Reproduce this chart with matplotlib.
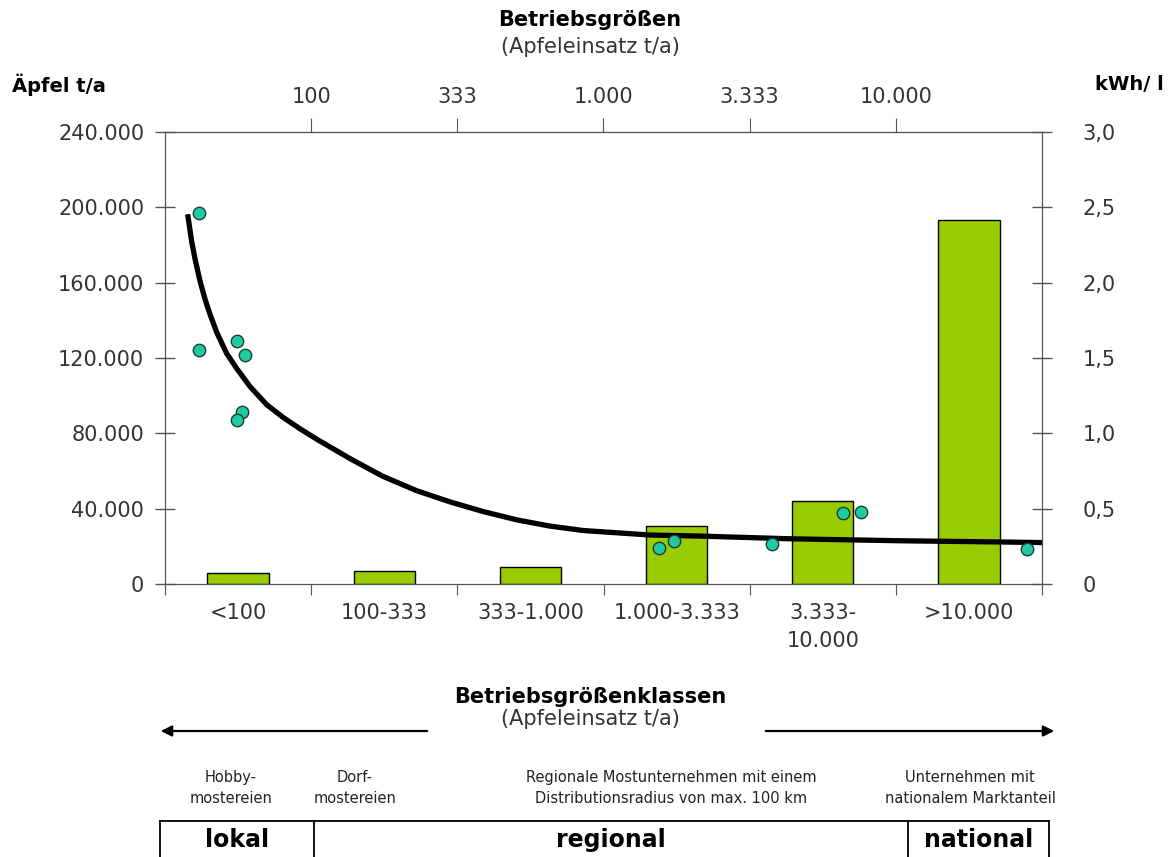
import matplotlib
matplotlib.use("Agg")
import matplotlib.pyplot as plt
from matplotlib.lines import Line2D

# categories on the bottom axis and the bar values (left axis, Äpfel t/a)
categories = ["<100", "100-333", "333-1.000", "1.000-3.333", "3.333-\n10.000", ">10.000"]
apples_t = [5800, 6900, 9000, 31000, 44200, 193300]

# upper axis: size boundaries (Apfeleinsatz t/a)
size_labels = ["100", "333", "1.000", "3.333", "10.000"]

# measured energy use per litre (right axis, kWh/l), x in category units
pts_x = [-0.27, -0.27, -0.01, 0.05, 0.03, -0.01, 2.88, 2.98, 3.65, 4.14, 4.26, 5.40]
pts_kwh = [2.46, 1.55, 1.61, 1.52, 1.14, 1.09, 0.24, 0.285, 0.265, 0.47, 0.48, 0.23]

# trend line
trend_x = [-0.345, -0.317, -0.295, -0.265, -0.249, -0.226, -0.192, -0.146, -0.078,
           -0.009, 0.082, 0.196, 0.309, 0.424, 0.54, 0.77, 0.99, 1.22, 1.45, 1.68,
           1.91, 2.13, 2.36, 2.59, 2.82, 3.16, 3.78, 4.53, 5.21, 5.50]
trend_kwh = [2.454, 2.27, 2.16, 2.03, 1.97, 1.89, 1.79, 1.67, 1.53,
             1.43, 1.31, 1.19, 1.105, 1.03, 0.96, 0.83, 0.715, 0.62, 0.545, 0.48,
             0.425, 0.385, 0.355, 0.34, 0.325, 0.318, 0.30, 0.287, 0.279, 0.275]

left_ticks = [0, 40000, 80000, 120000, 160000, 200000, 240000]
right_ticks = [0, 0.5, 1.0, 1.5, 2.0, 2.5, 3.0]

W, H = 1169, 857
ink = "#333333"
spine = "#555555"
plt.rcParams["font.family"] = "DejaVu Sans"


def fx(px):
    return px / W


def fy(py):
    return 1 - py / H


fig = plt.figure(figsize=(W / 100, H / 100), dpi=100)
ax = fig.add_axes([fx(165), fy(584), (1042 - 165) / W, (584 - 132) / H])
ax2 = ax.twinx()

n = len(categories)
ax.bar(range(n), apples_t, width=0.42, color="#99CC00", edgecolor="black", lw=1)
ax.set_xlim(-0.5, n - 0.5)
ax.set_ylim(0, 240000)
ax.set_yticks(left_ticks, [f"{v:,}".replace(",", ".") for v in left_ticks])
ax.tick_params(axis="y", direction="inout", length=14, width=1, color=spine,
               labelsize=15, labelcolor=ink, pad=8)

# category boundaries as major ticks, names on minor ticks
ax.set_xticks([i - 0.5 for i in range(n + 1)], [""] * (n + 1))
ax.set_xticks(range(n), categories, minor=True)
ax.tick_params(axis="x", which="major", direction="out", length=8, color=spine)
ax.tick_params(axis="x", which="minor", length=0, labelsize=15, labelcolor=ink, pad=14)
for lab in ax.get_xticklabels(minor=True):
    lab.set_linespacing(1.5)

ax2.plot(trend_x, trend_kwh, color="black", lw=3.8, solid_capstyle="butt",
         solid_joinstyle="round")
ax2.scatter(pts_x, pts_kwh, s=80, color="#1FC9A1", edgecolor="#1f3d33", lw=1, zorder=3)
ax2.set_ylim(0, 3.0)
ax2.set_yticks(right_ticks, ["0"] + [f"{v:.1f}".replace(".", ",") for v in right_ticks[1:]])
ax2.tick_params(axis="y", direction="inout", length=14, width=1, color=spine,
                labelsize=15, labelcolor=ink, pad=22)

top = ax.secondary_xaxis("top")
top.set_xticks([i + 0.5 for i in range(n - 1)], size_labels)
top.tick_params(direction="out", length=10, color=spine, labelsize=15,
                labelcolor=ink, pad=8)
top.spines["top"].set_color(spine)

for a in (ax, ax2):
    for s in a.spines.values():
        s.set_color(spine)

fig.text(fx(590), fy(20), "Betriebsgrößen", ha="center", va="center",
         fontsize=15, fontweight="bold")
fig.text(fx(590), fy(47), "(Apfeleinsatz t/a)", ha="center", va="center",
         fontsize=15, color=ink)
fig.text(fx(12), fy(85), "Äpfel t/a", ha="left", va="center", fontsize=14,
         fontweight="bold")
fig.text(fx(1095), fy(85), "kWh/ l", ha="left", va="center", fontsize=14,
         fontweight="bold")

fig.text(fx(590), fy(697), "Betriebsgrößenklassen", ha="center", va="center",
         fontsize=15, fontweight="bold")
fig.text(fx(590), fy(719), "(Apfeleinsatz t/a)", ha="center", va="center",
         fontsize=15, color=ink)
for x0, x1 in ((430, 158), (763, 1057)):
    fig.add_artist(matplotlib.patches.FancyArrowPatch(
        (fx(x0), fy(731)), (fx(x1), fy(731)), transform=fig.transFigure,
        arrowstyle="-|>", mutation_scale=16, color="black", lw=1.6))

groups = [(231, "Hobby-\nmostereien"), (355, "Dorf-\nmostereien"),
          (671, "Regionale Mostunternehmen mit einem\nDistributionsradius von max. 100 km"),
          (970, "Unternehmen mit\nnationalem Marktanteil")]
for x, txt in groups:
    fig.text(fx(x), fy(788), txt, ha="center", va="center", fontsize=10.5,
             linespacing=1.45, color="#222222")

fig.add_artist(Line2D([fx(160), fx(1049)], [fy(821), fy(821)], color="black", lw=1.3))
for x in (160, 314, 908, 1049):
    fig.add_artist(Line2D([fx(x), fx(x)], [fy(821), 0], color="black", lw=1.3))
for x, txt in ((237, "lokal"), (611, "regional"), (979, "national")):
    fig.text(fx(x), fy(840), txt, ha="center", va="center", fontsize=17,
             fontweight="bold")

fig.savefig("out.png", dpi=100)
